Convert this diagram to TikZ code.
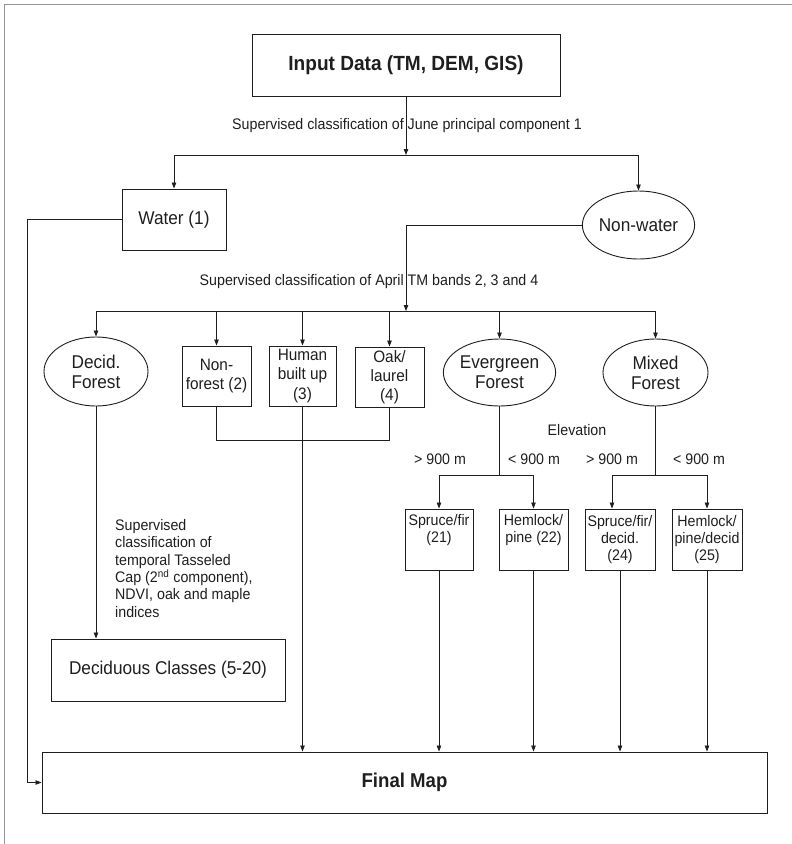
\documentclass[tikz,border=0pt]{standalone}
\usepackage{fontspec}
\setmainfont[FakeStretch=0.93]{Liberation Sans}
\usetikzlibrary{arrows.meta,shapes.geometric}
\definecolor{cEdge}{RGB}{30,30,30}
\definecolor{cFrame}{RGB}{150,150,150}
\newcommand{\fsz}[2]{\fontsize{#1}{#2}\selectfont}

\begin{document}
\begin{tikzpicture}[
  x=1pt, y=-1pt, color=cEdge, font=\fsz{15.3}{17.4},
  box/.style ={draw, line width=0.9pt, align=center, inner sep=0pt},
  oval/.style={ellipse, draw, line width=0.9pt, align=center, inner sep=0pt},
  big/.style ={font=\fsz{18.5}{20}},
  mid/.style ={font=\fsz{16.5}{19.2}, minimum height=60pt},
  leaf/.style={box, font=\fsz{15.3}{17.2}, minimum height=61pt},
  conn/.style={line width=0.8pt},
  arr/.style ={conn, -{Triangle[length=6pt,width=4.5pt]}},
]
\useasboundingbox (0,0) rectangle (792,844);
\draw[cFrame, line width=1.2pt] (792,4.5) -- (4.5,4.5) -- (4.5,844);

% rows: 65 / 219 / 372 / 539 / 670 / 782
\node[box, font=\bfseries\fsz{20.5}{24}, minimum width=308pt, minimum height=62pt]
      (inp)   at (406,65)    {Input Data (TM, DEM, GIS)};
\node[box, big, minimum width=104pt, minimum height=61pt]
      (water) at (174,219.5) {Water (1)};
\node[oval, big, minimum width=105pt, minimum height=68pt]
      (nonw)  at (638.5,225) {Non-water};

\node[oval, big, minimum width=104pt, minimum height=69pt]
      (decid) at (96,371.5)  {Decid.\\Forest};
\node[box, mid, minimum width=69pt]  (nonf)  at (216.5,376) {Non-\\forest (2)};
\node[box, mid, minimum width=67pt]  (human) at (302.5,376) {Human\\built up\\(3)};
\node[box, mid, minimum width=69pt]  (oak)   at (389.5,377) {Oak/\\laurel\\(4)};
\node[oval, big, minimum width=103pt, minimum height=67pt]
      (ever)  at (499.5,372.5) {Evergreen\\Forest};
\node[oval, big, minimum width=105pt, minimum height=67pt]
      (mixed) at (655.5,372.5) {Mixed\\Forest};

\node[leaf, minimum width=68pt] (spr) at (439,539.5)   {Spruce/fir\\(21)\\\strut};
\node[leaf, minimum width=69pt] (hem) at (533.5,539.5) {Hemlock/\\pine (22)\\\strut};
\node[leaf, minimum width=70pt] (sfd) at (620,539.5)   {Spruce/fir/\\decid.\\(24)};
\node[leaf, minimum width=70pt] (hpd) at (707,539.5)   {Hemlock/\\pine/decid\\(25)};

\node[box, big, minimum width=234pt, minimum height=62pt]
      (dcl) at (168,670)   {Deciduous Classes (5-20)};
\node[box, font=\bfseries\fsz{20}{24}, minimum width=725pt, minimum height=61pt]
      (fin) at (404.5,782.5) {Final Map};

% ----- labels -------------------------------------------------------------
\node (lab1) at (407,126) {Supervised classification of June principal component 1};
\node (lab2) at (369,282) {Supervised classification of April TM bands 2, 3 and 4};
\node (elev) at (577,430) {Elevation};
\node (eHi)  at (440,459) {> 900 m};
\node (eLo)  at (534,459) {< 900 m};
\node (mHi)  at (612,459) {> 900 m};
\node (mLo)  at (699,459) {< 900 m};
\node[anchor=north west, align=left, inner sep=0pt] (desc) at (115,519)
      {Supervised\\classification of\\temporal Tasseled\\Cap (2\textsuperscript{nd} component),\\NDVI, oak and maple\\indices};

\coordinate (s1) at (406,155);
\coordinate (s2) at (406,311);
\coordinate (wl) at (27,219.5);
\coordinate (e1) at (499.5,475);
\coordinate (m1) at (655.5,475);

% ----- first split: water / non-water -------------------------------------
\draw[arr] (inp) -- (s1);
\draw[arr] (s1) -| (water);
\draw[arr] (s1) -| (nonw);
\draw[arr] (water) -- (wl) |- (fin);

% ----- second split on the April bands ------------------------------------
\draw[arr] (nonw) -| (s2);
\foreach \n in {decid,nonf,human,oak,ever,mixed}
  \draw[arr] (s2) -| (\n);

% ----- deciduous and the unforested classes -------------------------------
\draw[arr]  (decid) -- (decid |- dcl.north);
\draw[conn] (nonf.south) -- ++(0,34) -| (oak.south);
\draw[arr]  (human) -- (human |- fin.north);

% ----- elevation splits ---------------------------------------------------
\draw[conn] (ever) -- (e1);
\draw[arr]  (e1) -| (spr);
\draw[arr]  (e1) -| (hem);
\draw[conn] (mixed) -- (m1);
\draw[arr]  (m1) -| ([xshift=-8pt]sfd.north);
\draw[arr]  (m1) -| (hpd);

\foreach \n in {spr,hem,sfd,hpd}
  \draw[arr] (\n) -- (\n |- fin.north);

\end{tikzpicture}
\end{document}
